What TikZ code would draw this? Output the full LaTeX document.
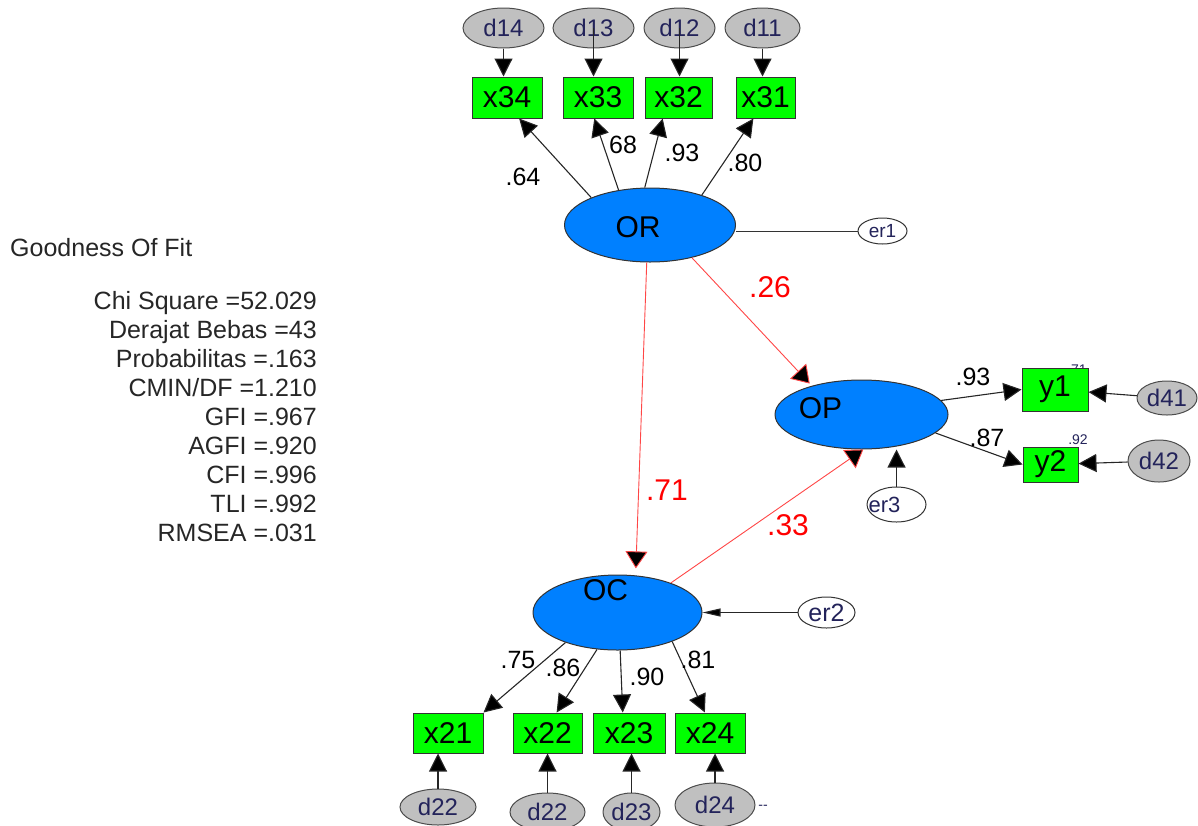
\documentclass[tikz,border=0pt]{standalone}
\usepackage{fontspec}
\setmainfont{Liberation Sans}
\usetikzlibrary{arrows.meta,shapes.geometric}
\definecolor{boxgreen}{RGB}{0,255,0}
\definecolor{latblue}{RGB}{0,128,255}
\definecolor{errgray}{RGB}{192,192,192}
\definecolor{pathred}{RGB}{255,70,70}
\definecolor{navy}{RGB}{35,35,90}
\tikzset{
  loading/.style={-{Triangle[length=18pt,width=18pt,fill=black]},line width=1.1pt,draw=black!85},
  regpath/.style={-{Triangle[length=17pt,width=22pt,fill=black]},line width=0.9pt,draw=pathred},
  errarrow/.style={-{Triangle[length=18pt,width=8pt,fill=black]},line width=1.1pt,draw=black!85}
}

\begin{document}
\begin{tikzpicture}[x=1pt,y=-1pt]
\tikzstyle{obsbox}=[rectangle,draw=black!80,line width=1pt,fill=boxgreen,inner sep=0pt,minimum height=41pt,font=\fontsize{30}{32}\selectfont]
\tikzstyle{latent}=[ellipse,draw=black!80,line width=1pt,fill=latblue,inner sep=0pt]
\tikzstyle{latlabel}=[inner sep=0pt,font=\fontsize{30}{32}\selectfont]
\tikzstyle{dist}=[ellipse,draw=black!70,line width=1pt,fill=errgray,inner sep=0pt,minimum height=40pt,text=navy,font=\fontsize{24}{26}\selectfont]
\tikzstyle{resid}=[ellipse,draw=black!80,line width=1pt,fill=white,inner sep=0pt,text=navy]
\tikzstyle{coef}=[inner sep=0pt,font=\fontsize{25}{27}\selectfont]
\tikzstyle{redcoef}=[inner sep=0pt,text=red,font=\fontsize{30}{32}\selectfont]
\tikzstyle{tiny}=[inner sep=0pt,text=navy,font=\fontsize{14}{15}\selectfont]
\tikzstyle{goftext}=[inner sep=0pt,text=black!85,font=\fontsize{25}{29}\selectfont]
\useasboundingbox (0,0) rectangle (1198,825);

\node (gof) [goftext,anchor=west] at (10,248) {Goodness Of Fit};
\node (stats) [goftext,align=right,anchor=north east] at (317,291) {Chi Square =52.029\\Derajat Bebas =43\\Probabilitas =.163\\CMIN/DF =1.210\\GFI =.967\\AGFI =.920\\CFI =.996\\TLI =.992\\RMSEA =.031};

\node (d14) [dist,minimum width=81pt] at (503.5,28) {d14};
\node (d13) [dist,minimum width=81pt] at (593.5,28) {d13};
\node (d12) [dist,minimum width=71pt] at (679.5,28) {d12};
\node (d11) [dist,minimum width=75pt] at (762.5,28) {d11};
\node (x34) [obsbox,minimum width=70pt] at (507,97.5) {x34};
\node (x33) [obsbox,minimum width=70pt] at (598,97.5) {x33};
\node (x32) [obsbox,minimum width=67pt] at (678.5,97.5) {x32};
\node (x31) [obsbox,minimum width=59pt] at (765.5,97.5) {x31};

\node (or) [latent,minimum width=171pt,minimum height=74pt,label={[latlabel,xshift=-12pt,yshift=-2pt]center:OR}] at (650,225) {};
\node (er1) [resid,minimum width=49pt,minimum height=26pt,font=\fontsize{19}{20}\selectfont] at (882.5,231) {er1};

\node (op) [latent,minimum width=173pt,minimum height=69pt,label={[latlabel,xshift=-41pt,yshift=6pt]center:OP}] at (861.5,414.5) {};
\node (er3) [resid,minimum width=59pt,minimum height=35pt,label={[tiny,font=\fontsize{22}{24}\selectfont,xshift=-12pt]center:er3}] at (896.5,504.5) {};
\node (s71) [tiny] at (1077,370) {.71};
\node (y1) [obsbox,minimum width=66pt,minimum height=43pt] at (1055,389.5) {y1};
\node (y2) [obsbox,minimum width=55pt,minimum height=35pt] at (1050.5,464.5) {y2};
\node (d41) [dist,minimum width=60pt,minimum height=34pt] at (1167,398) {d41};
\node (d42) [dist,minimum width=62pt,minimum height=42pt] at (1159,461) {d42};

\node (oc) [latent,minimum width=169pt,minimum height=75pt,label={[latlabel,xshift=-12pt,yshift=22pt]center:OC}] at (617.5,612.5) {};
\node (er2) [resid,minimum width=57pt,minimum height=31pt,font=\fontsize{25}{26}\selectfont] at (826.5,612.5) {er2};

\node (x21) [obsbox,minimum width=70pt,minimum height=40pt] at (448,733) {x21};
\node (x22) [obsbox,minimum width=69pt,minimum height=40pt] at (547.5,733) {x22};
\node (x23) [obsbox,minimum width=72pt,minimum height=40pt] at (629,733) {x23};
\node (x24) [obsbox,minimum width=70pt,minimum height=40pt] at (710,733) {x24};
\node (d22a) [dist,minimum width=76pt,minimum height=36pt] at (438,807) {d22};
\node (d22b) [dist,minimum width=75pt,minimum height=38pt] at (547.5,812) {d22};
\node (d23) [dist,minimum width=57pt,minimum height=38pt] at (631.5,812) {d23};
\node (d24) [dist,minimum width=80pt,minimum height=44pt] at (715,805) {d24};
\node (dash) [tiny] at (763,807) {-{}-};

\draw[loading] (d14.south) -- (d14.south |- x34.north);
\draw[loading] (d13.center) -- (d13.center |- x33.north);
\draw[loading] (d12.center) -- (d12.center |- x32.north);
\draw[loading] (d11.south) -- (d11.south |- x31.north);
\draw[loading] (or.155) -- (x34.-60);
\draw[loading] (or.132) -- (x33.-100);
\draw[loading] (or.98) -- (x32.233);
\draw[loading] (or.30) -- (x31.240);
\node (l64) [coef] at (523,177) {.64};
\node (l68) [coef] at (623,145) {68};
\node (l93) [coef] at (682,153) {.93};
\node (l80) [coef] at (745,163) {.80};
\draw[line width=1pt,black!80] (er1.west) -- (er1.west -| or.east);

\draw[regpath,shorten >=7pt] (or.265) -- (oc.64);
\draw[regpath,shorten >=3pt] (or.322) -- (op.150);
\draw[regpath] (oc.29) -- (op.273);
\node (l26) [redcoef] at (770,287) {.26};
\node (l71) [redcoef] at (667,490) {.71};
\node (l33) [redcoef] at (788,525) {.33};

\draw[loading] (op.10) -- (y1.west);
\draw[loading] (op.-14) -- (y2.west);
\draw[loading] (d41) -- (y1);
\draw[loading] (d42) -- (y2);
\draw[loading] (er3.north) -- (er3.north |- op.south);
\node (ly1) [coef] at (973,377) {.93};
\node (ly2) [coef] at (987,438) {.87};
\node (s92) [tiny] at (1078,440) {.92};

\draw[errarrow] (er2) -- (oc);
\draw[loading] (oc.210) -- (x21.north east);
\draw[loading] (oc.241) -- (x22.66);
\draw[loading] (oc.274) -- (x23.107);
\draw[loading] (oc.332) -- (x24.104);
\node (l75) [coef] at (518,660) {.75};
\node (l86) [coef] at (563,668) {.86};
\node (l90) [coef] at (647,677) {.90};
\node (l81) [coef] at (698,660) {.81};
\draw[loading] (d22a.north) -- (d22a.north |- x21.south);
\draw[loading] (d22b.north) -- (d22b.north |- x22.south);
\draw[loading] (d23.north) -- (d23.north |- x23.south);
\draw[loading] (d24.north) -- (d24.north |- x24.south);
\end{tikzpicture}
\end{document}
